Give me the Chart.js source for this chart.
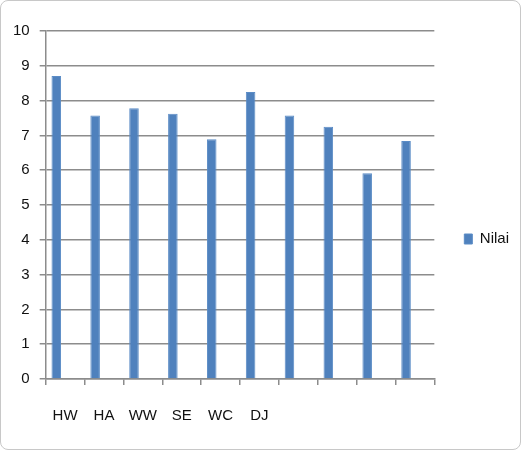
<!DOCTYPE html>
<html lang="id">

<head>
    <meta charset="UTF-8">
    <title>Nilai</title>
    <script src="https://cdn.jsdelivr.net/npm/chart.js"></script>
    <style>
        html, body { margin: 0; padding: 0; background: #fff; }
        .frame {
            position: absolute; left: 0; top: 0;
            width: 521px; height: 450px;
            border: 1px solid #c8c8c8; border-radius: 8px;
            box-sizing: border-box;
        }
        .chart-box { position: absolute; left: 0; top: 0; width: 523px; height: 452px; }
    </style>
</head>

<body>
    <div class="frame"></div>
    <div class="chart-box">
        <canvas id="grafikNilai" width="523" height="452"></canvas>
    </div>
</body>

</html>

<script>
    // kategori (hanya 6 yang berlabel di gambar asli)
    const kategori = ['HW', 'HA', 'WW', 'SE', 'WC', 'DJ', '', '', '', ''];
    const nilai = [8.71, 7.57, 7.78, 7.62, 6.89, 8.25, 7.57, 7.25, 5.91, 6.84];
    // seri kosong kedua (membuat batang bergeser ke kiri seperti di Excel)
    const kosong = [null, null, null, null, null, null, null, null, null, null];
    const yTicks = [0, 1, 2, 3, 4, 5, 6, 7, 8, 9, 10];

    const fontUmum = { family: "'Liberation Sans', 'DejaVu Sans', sans-serif", size: 15 };

    const ctx = document.getElementById('grafikNilai').getContext('2d');
    new Chart(ctx, {
        type: 'bar',
        data: {
            labels: kategori,
            datasets: [
                {
                    label: 'Nilai',
                    data: nilai,
                    backgroundColor: '#4f81bd',
                    borderColor: '#5b8cc6',
                    borderWidth: 1,
                    categoryPercentage: 0.91,
                    barPercentage: 0.54
                },
                {
                    label: '',
                    data: kosong,
                    backgroundColor: '#c0504d',
                    categoryPercentage: 0.91,
                    barPercentage: 0.54
                }
            ]
        },
        options: {
            responsive: false,
            animation: false,
            layout: {
                padding: { left: 3, right: 4, top: 31, bottom: 5 }
            },
            plugins: {
                legend: {
                    position: 'right',
                    labels: {
                        boxWidth: 8,
                        boxHeight: 10,
                        color: '#111',
                        font: fontUmum,
                        padding: 30,
                        filter: item => item.text !== ''
                    }
                },
                tooltip: { enabled: false }
            },
            scales: {
                y: {
                    min: 0,
                    max: 10,
                    afterBuildTicks: axis => { axis.ticks = yTicks.map(v => ({ value: v })); },
                    ticks: { color: '#111', font: fontUmum, padding: 10 },
                    grid: { color: '#8c8c8c', lineWidth: 1.5, tickLength: 6 },
                    border: { color: '#8c8c8c', width: 1.5 }
                },
                x: {
                    ticks: { color: '#111', font: fontUmum, padding: 22, autoSkip: false, maxRotation: 0 },
                    grid: { drawOnChartArea: false, drawTicks: true, tickLength: 6, color: '#8c8c8c', lineWidth: 1.5 },
                    border: { color: '#8c8c8c', width: 1.5 }
                }
            }
        }
    });
</script>
